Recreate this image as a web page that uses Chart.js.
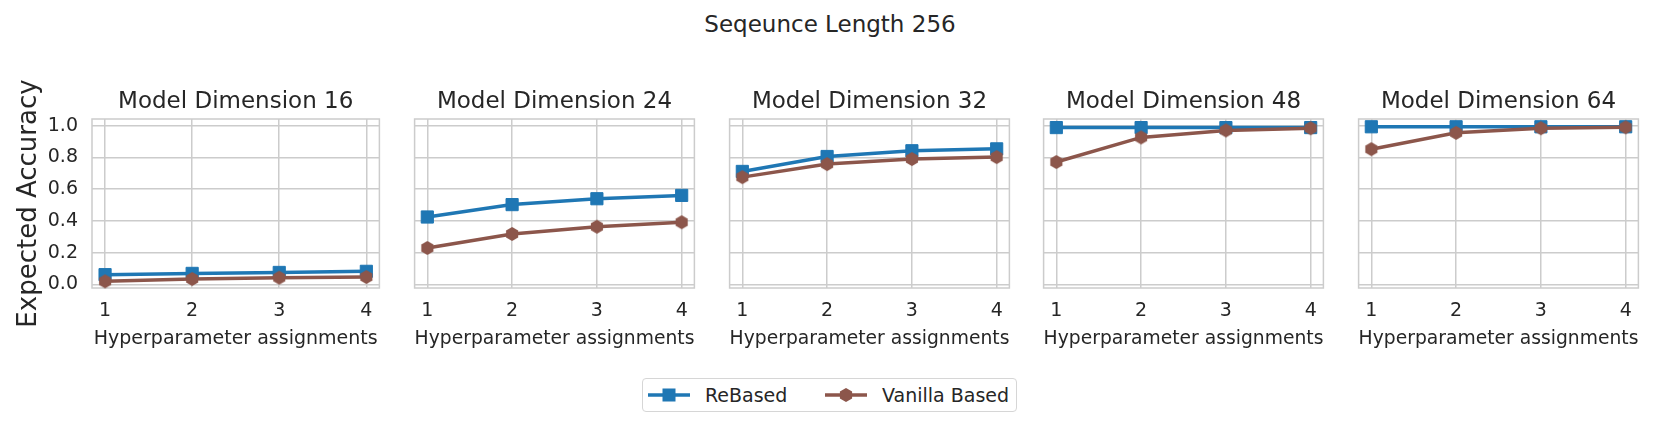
<!DOCTYPE html>
<html>
<head>
<meta charset="utf-8">
<script src="https://cdn.jsdelivr.net/npm/chart.js@4.4.0/dist/chart.umd.min.js"></script>
<style>
  body { margin: 0; background: #fff; width: 1660px; height: 427px; position: relative; overflow: hidden;
         font-family: "DejaVu Sans", sans-serif; color: #262626; }
  canvas { position: absolute; top: 80px; }
  #title { position: absolute; left: 0; width: 1660px; top: 11px; text-align: center; font-size: 23px; }
  #legend { position: absolute; left: 642px; top: 378px; width: 373px; height: 32px;
            border: 1.5px solid #d6d6d6; border-radius: 4px; }
  .item { position: absolute; top: 0; height: 32px; display: flex; align-items: center; font-size: 19px; }
  .item svg { margin-right: 15px; }
</style>
</head>
<body>
<div id="title">Seqeunce Length 256</div>
<canvas id="p0" width="389" height="280" style="left:0px"></canvas>
<canvas id="p1" width="299" height="280" style="left:405px"></canvas>
<canvas id="p2" width="299" height="280" style="left:720px"></canvas>
<canvas id="p3" width="299" height="280" style="left:1034px"></canvas>
<canvas id="p4" width="299" height="280" style="left:1349px"></canvas>
<div id="legend">
  <div class="item" style="left:5px">
    <svg width="42" height="16"><line x1="0" y1="8" x2="42" y2="8" stroke="#1f77b4" stroke-width="3.5"/><rect x="14.5" y="1.5" width="13" height="13" fill="#1f77b4"/></svg>ReBased
  </div>
  <div class="item" style="left:182px">
    <svg width="42" height="16"><line x1="0" y1="8" x2="42" y2="8" stroke="#8c564b" stroke-width="3.5"/><polygon points="21,1 27.1,4.5 27.1,11.5 21,15 14.9,11.5 14.9,4.5" fill="#8c564b"/></svg>Vanilla Based
  </div>
</div>
<script>
// Data
const hyperparams = [1, 2, 3, 4];
const modelDims = [16, 24, 32, 48, 64];
const yTicks = [0, 0.2, 0.4, 0.6, 0.8, 1.0];

const rebased = [
  [0.062, 0.070, 0.076, 0.083],
  [0.425, 0.503, 0.540, 0.561],
  [0.712, 0.806, 0.842, 0.854],
  [0.988, 0.988, 0.988, 0.988],
  [0.993, 0.993, 0.993, 0.993]
];
const vanilla = [
  [0.020, 0.035, 0.043, 0.047],
  [0.230, 0.318, 0.364, 0.392],
  [0.676, 0.758, 0.790, 0.802],
  [0.771, 0.926, 0.970, 0.984],
  [0.852, 0.955, 0.984, 0.990]
];

const BLUE = "#1f77b4";
const BROWN = "#8c564b";
const GRID = "#cccccc";
const TEXT = "#262626";
const FONT = "DejaVu Sans";

// hexagon marker (pointy top, like matplotlib 'h')
const hex = document.createElement("canvas");
hex.width = 16; hex.height = 16;
let hctx = hex.getContext("2d");
hctx.fillStyle = BROWN;
hctx.beginPath();
for (let k = 0; k < 6; k++) {
  let a = -Math.PI / 2 + k * Math.PI / 3;
  let px = 8 + 7 * Math.cos(a), py = 8 + 7 * Math.sin(a);
  if (k === 0) hctx.moveTo(px, py); else hctx.lineTo(px, py);
}
hctx.closePath();
hctx.fill();

// box around each plot area
const frame = {
  id: "frame",
  beforeDatasetsDraw(chart) {
    let a = chart.chartArea, ctx = chart.ctx;
    ctx.save();
    ctx.strokeStyle = GRID;
    ctx.lineWidth = 1.5;
    ctx.strokeRect(a.left, a.top, a.right - a.left, a.bottom - a.top);
    ctx.restore();
  }
};

function points(vals) {
  return hyperparams.map((h, i) => ({ x: h, y: vals[i] }));
}

modelDims.forEach((dim, i) => {
  let first = i === 0;
  new Chart(document.getElementById("p" + i), {
    type: "line",
    data: {
      datasets: [
        {
          label: "ReBased",
          data: points(rebased[i]),
          borderColor: BLUE,
          backgroundColor: BLUE,
          borderWidth: 3.5,
          pointStyle: "rect",
          pointRadius: 8.6,
          pointBorderWidth: 1,
          order: 1,
          clip: false
        },
        {
          label: "Vanilla Based",
          data: points(vanilla[i]),
          borderColor: BROWN,
          backgroundColor: BROWN,
          borderWidth: 3.5,
          pointStyle: hex,
          order: 0,
          clip: false
        }
      ]
    },
    options: {
      responsive: false,
      animation: false,
      layout: { padding: { left: first ? 0 : 2, right: 2, top: 0, bottom: 0 } },
      plugins: {
        legend: { display: false },
        tooltip: { enabled: false },
        title: {
          display: true,
          fullSize: false,
          text: "Model Dimension " + dim,
          color: TEXT,
          font: { family: FONT, size: 23, weight: "normal" },
          padding: { top: 8, bottom: 3.4 }
        }
      },
      scales: {
        x: {
          type: "linear",
          min: 0.85,
          max: 4.15,
          afterFit: s => { s.height = 72; },
          afterBuildTicks: s => { s.ticks = hyperparams.map(v => ({ value: v })); },
          grid: { color: GRID, lineWidth: 1.5, drawTicks: false },
          border: { display: false },
          ticks: { color: TEXT, font: { family: FONT, size: 19 }, padding: 12, autoSkip: false },
          title: {
            display: true,
            text: "Hyperparameter assignments",
            color: TEXT,
            font: { family: FONT, size: 19 },
            padding: { top: 0, bottom: 10 }
          }
        },
        y: {
          min: -0.022,
          max: 1.042,
          afterFit: s => { s.width = first ? 92 : 0; },
          afterBuildTicks: s => { s.ticks = yTicks.map(v => ({ value: v })); },
          grid: { color: GRID, lineWidth: 1.5, drawTicks: false },
          border: { display: false },
          ticks: {
            display: first,
            color: TEXT,
            font: { family: FONT, size: 19 },
            padding: 14,
            callback: v => v.toFixed(1)
          },
          title: {
            display: first,
            text: "Expected Accuracy",
            color: TEXT,
            font: { family: FONT, size: 26 },
            padding: { top: 14, bottom: 0 }
          }
        }
      }
    },
    plugins: [frame]
  });
});
</script>
</body>
</html>
